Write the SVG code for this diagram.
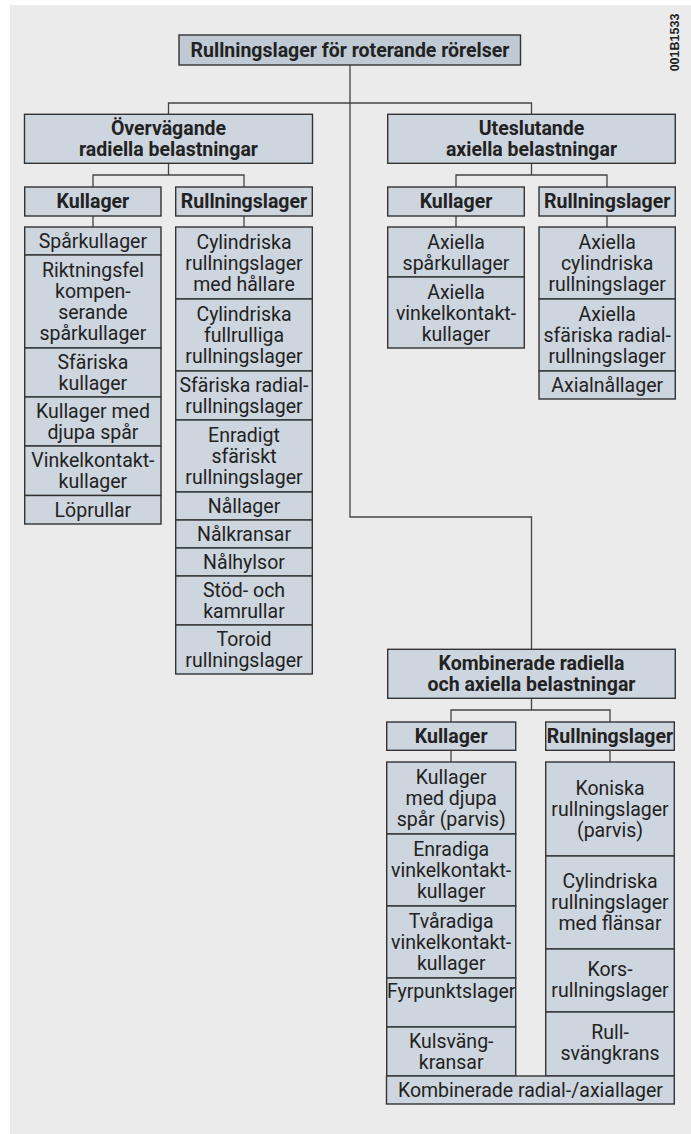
<svg xmlns="http://www.w3.org/2000/svg" width="691" height="1134" viewBox="0 0 691 1134">
<style>
.bg{fill:#ebebeb}
.box{fill:#cdd5df;stroke:#333;stroke-width:1.4}
.tbox{fill:#bfcad4;stroke:#333;stroke-width:1.4}
.t{font-family:Roboto,"Noto Sans","Liberation Sans",sans-serif;font-size:19.5px;fill:#222;text-anchor:middle}
.b{font-weight:bold}
.code{font-family:"Liberation Sans",Arial,sans-serif;font-size:12.5px;font-weight:bold;fill:#222;text-anchor:middle}
.c{fill:none;stroke:#444;stroke-width:1.3}
</style>
<rect class="bg" x="10" y="5" width="681" height="1129"/>
<text class="code" transform="translate(678.5,42.5) rotate(-90)">001B1533</text>

<g id="connectors">
<path class="c" d="M350,65 V517 H531.5 V649.3"/>
<path class="c" d="M168.5,114.3 V103 H531.5 V114.3"/>
<path class="c" d="M168.5,163.3 V175 M93,187 V175 H244 V187"/>
<path class="c" d="M93,216 V227 M244,216 V227"/>
<path class="c" d="M531.5,163.3 V175 M456,187 V175 H607 V187"/>
<path class="c" d="M456,216 V227 M607,216 V227"/>
<path class="c" d="M531.5,698.3 V710 M451,722 V710 H610 V722"/>
<path class="c" d="M451,750.3 V762 M610,750.3 V762"/>
</g>

<g id="root">
<rect class="tbox" x="179" y="35" width="341.5" height="30"/>
<text class="t b" x="350" y="57">Rullningslager för roterande rörelser</text>
</g>

<g id="radial">
<rect class="box" x="24.5" y="114.3" width="288" height="49"/>
<text class="t b" x="168.5" y="134.5">Övervägande</text>
<text class="t b" x="168.5" y="155.5">radiella belastningar</text>
</g>
<g id="axial">
<rect class="box" x="387.7" y="114.3" width="287.6" height="49"/>
<text class="t b" x="531.5" y="134.5">Uteslutande</text>
<text class="t b" x="531.5" y="155.5">axiella belastningar</text>
</g>
<g id="combined">
<rect class="box" x="387.7" y="649.3" width="287.6" height="49"/>
<text class="t b" x="531.5" y="670">Kombinerade radiella</text>
<text class="t b" x="531.5" y="691">och axiella belastningar</text>
</g>

<g id="r-kullager-head">
<rect class="box" x="24.7" y="187" width="136.3" height="29"/>
<text class="t b" x="92.9" y="207.5">Kullager</text>
</g>
<g id="r-rull-head">
<rect class="box" x="175.7" y="187" width="136.6" height="29"/>
<text class="t b" x="244" y="207.5">Rullningslager</text>
</g>
<g id="a-kullager-head">
<rect class="box" x="387.7" y="187" width="136.6" height="29"/>
<text class="t b" x="456" y="207.5">Kullager</text>
</g>
<g id="a-rull-head">
<rect class="box" x="539" y="187" width="136.3" height="29"/>
<text class="t b" x="607.2" y="207.5">Rullningslager</text>
</g>
<g id="c-kullager-head">
<rect class="box" x="386.7" y="722" width="129" height="28.3"/>
<text class="t b" x="451.2" y="742.5">Kullager</text>
</g>
<g id="c-rull-head">
<rect class="box" x="545.7" y="722" width="128.6" height="28.3"/>
<text class="t b" x="610" y="742.5">Rullningslager</text>
</g>

<g id="r-kullager-list">
<g id="n-sparkullager"><rect class="box" x="24.7" y="227" width="136.3" height="28"/>
<text class="t" x="92.9" y="248">Spårkullager</text></g>
<g id="n-riktningsfel"><rect class="box" x="24.7" y="255" width="136.3" height="93"/>
<text class="t" x="92.9" y="277">Riktningsfel</text><text class="t" x="92.9" y="298">kompen-</text><text class="t" x="92.9" y="319">serande</text><text class="t" x="92.9" y="340">spårkullager</text></g>
<g id="n-sfariska-kullager"><rect class="box" x="24.7" y="348" width="136.3" height="49"/>
<text class="t" x="92.9" y="369">Sfäriska</text><text class="t" x="92.9" y="390">kullager</text></g>
<g id="n-djupa"><rect class="box" x="24.7" y="397" width="136.3" height="49"/>
<text class="t" x="92.9" y="418">Kullager med</text><text class="t" x="92.9" y="439">djupa spår</text></g>
<g id="n-vinkel"><rect class="box" x="24.7" y="446" width="136.3" height="49.5"/>
<text class="t" x="92.9" y="467">Vinkelkontakt-</text><text class="t" x="92.9" y="488">kullager</text></g>
<g id="n-loprullar"><rect class="box" x="24.7" y="495.5" width="136.3" height="28.5"/>
<text class="t" x="92.9" y="516.5">Löprullar</text></g>
</g>

<g id="r-rull-list">
<g id="n-cyl-hallare"><rect class="box" x="175.7" y="227" width="136.6" height="72"/>
<text class="t" x="244" y="249">Cylindriska</text><text class="t" x="244" y="270">rullningslager</text><text class="t" x="244" y="291">med hållare</text></g>
<g id="n-cyl-full"><rect class="box" x="175.7" y="299" width="136.6" height="72"/>
<text class="t" x="244" y="321">Cylindriska</text><text class="t" x="244" y="342">fullrulliga</text><text class="t" x="244" y="363">rullningslager</text></g>
<g id="n-sfar-radial"><rect class="box" x="175.7" y="371" width="136.6" height="49"/>
<text class="t" x="244" y="392">Sfäriska radial-</text><text class="t" x="244" y="413">rullningslager</text></g>
<g id="n-enradigt"><rect class="box" x="175.7" y="420" width="136.6" height="72"/>
<text class="t" x="244" y="442">Enradigt</text><text class="t" x="244" y="463">sfäriskt</text><text class="t" x="244" y="484">rullningslager</text></g>
<g id="n-nallager"><rect class="box" x="175.7" y="492" width="136.6" height="28"/>
<text class="t" x="244" y="513">Nållager</text></g>
<g id="n-nalkransar"><rect class="box" x="175.7" y="520" width="136.6" height="28"/>
<text class="t" x="244" y="541">Nålkransar</text></g>
<g id="n-nalhylsor"><rect class="box" x="175.7" y="548" width="136.6" height="28"/>
<text class="t" x="244" y="569">Nålhylsor</text></g>
<g id="n-stod"><rect class="box" x="175.7" y="576" width="136.6" height="49"/>
<text class="t" x="244" y="597">Stöd- och</text><text class="t" x="244" y="618">kamrullar</text></g>
<g id="n-toroid"><rect class="box" x="175.7" y="625" width="136.6" height="49"/>
<text class="t" x="244" y="646">Toroid</text><text class="t" x="244" y="667">rullningslager</text></g>
</g>

<g id="a-kullager-list">
<g id="n-ax-spar"><rect class="box" x="387.7" y="227" width="136.6" height="50"/>
<text class="t" x="456" y="248.5">Axiella</text><text class="t" x="456" y="269.5">spårkullager</text></g>
<g id="n-ax-vinkel"><rect class="box" x="387.7" y="277" width="136.6" height="71"/>
<text class="t" x="456" y="298.5">Axiella</text><text class="t" x="456" y="319.5">vinkelkontakt-</text><text class="t" x="456" y="340.5">kullager</text></g>
</g>

<g id="a-rull-list">
<g id="n-ax-cyl"><rect class="box" x="539" y="227" width="136.3" height="72"/>
<text class="t" x="607.2" y="249">Axiella</text><text class="t" x="607.2" y="270">cylindriska</text><text class="t" x="607.2" y="291">rullningslager</text></g>
<g id="n-ax-sfar"><rect class="box" x="539" y="299" width="136.3" height="72"/>
<text class="t" x="607.2" y="321">Axiella</text><text class="t" x="607.2" y="342">sfäriska radial-</text><text class="t" x="607.2" y="363">rullningslager</text></g>
<g id="n-ax-nal"><rect class="box" x="539" y="371" width="136.3" height="28"/>
<text class="t" x="607.2" y="392">Axialnållager</text></g>
</g>

<g id="c-kullager-list">
<g id="n-c-djupa"><rect class="box" x="386.7" y="762" width="129" height="72"/>
<text class="t" x="451.2" y="784">Kullager</text><text class="t" x="451.2" y="805">med djupa</text><text class="t" x="451.2" y="826">spår (parvis)</text></g>
<g id="n-c-enradiga"><rect class="box" x="386.7" y="834" width="129" height="72"/>
<text class="t" x="451.2" y="856">Enradiga</text><text class="t" x="451.2" y="877">vinkelkontakt-</text><text class="t" x="451.2" y="898">kullager</text></g>
<g id="n-c-tvaradiga"><rect class="box" x="386.7" y="906" width="129" height="72"/>
<text class="t" x="451.2" y="928">Tvåradiga</text><text class="t" x="451.2" y="949">vinkelkontakt-</text><text class="t" x="451.2" y="970">kullager</text></g>
<g id="n-c-fyrpunkt"><rect class="box" x="386.7" y="978" width="129" height="49"/>
<text class="t" x="451.2" y="997.5">Fyrpunktslager</text></g>
<g id="n-c-kulsvang"><rect class="box" x="386.7" y="1027" width="129" height="49"/>
<text class="t" x="451.2" y="1047.5">Kulsväng-</text><text class="t" x="451.2" y="1068.5">kransar</text></g>
</g>

<g id="c-rull-list">
<g id="n-c-koniska"><rect class="box" x="545.7" y="762" width="128.6" height="94"/>
<text class="t" x="610" y="794.5">Koniska</text><text class="t" x="610" y="815.5">rullningslager</text><text class="t" x="610" y="836.5">(parvis)</text></g>
<g id="n-c-flansar"><rect class="box" x="545.7" y="856" width="128.6" height="93"/>
<text class="t" x="610" y="888">Cylindriska</text><text class="t" x="610" y="909">rullningslager</text><text class="t" x="610" y="930">med flänsar</text></g>
<g id="n-c-kors"><rect class="box" x="545.7" y="949" width="128.6" height="63"/>
<text class="t" x="610" y="976">Kors-</text><text class="t" x="610" y="997">rullningslager</text></g>
<g id="n-c-rull"><rect class="box" x="545.7" y="1012" width="128.6" height="64"/>
<text class="t" x="610" y="1039">Rull-</text><text class="t" x="610" y="1060">svängkrans</text></g>
</g>

<g id="n-c-radialaxial">
<rect class="box" x="386.5" y="1076" width="287.8" height="28"/>
<text class="t" x="530.4" y="1096.5">Kombinerade radial-/axiallager</text>
</g>
</svg>
